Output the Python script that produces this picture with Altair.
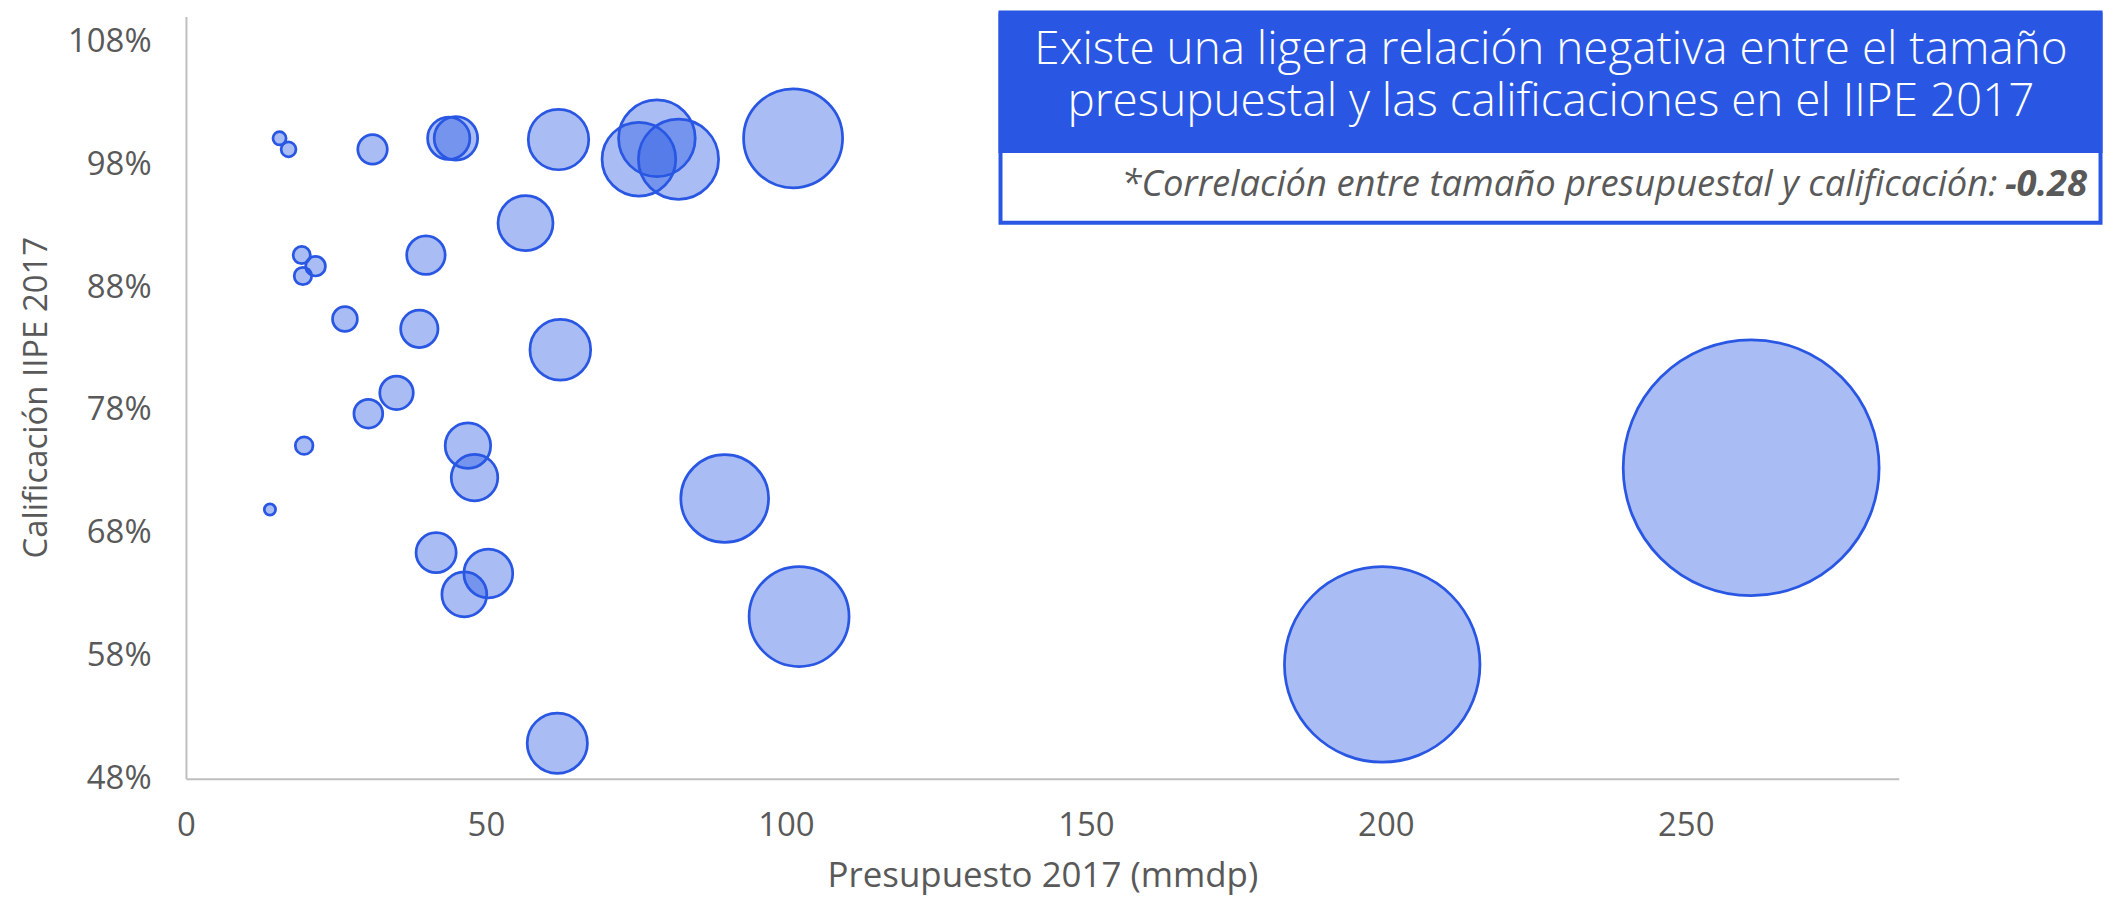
import altair as alt
import pandas as pd

# ---- data ----
presupuesto = [15.6, 17.1, 31.1, 43.8, 45.0, 62.1, 75.5, 78.5, 82.1, 101.2,
               56.6, 19.3, 21.6, 19.5, 40.0, 26.5, 38.9, 62.4, 35.1, 30.4,
               19.7, 47.0, 48.1, 14.0, 89.8, 41.7, 50.4, 46.4, 102.2, 61.9,
               199.4, 260.9]
calificacion = [1.001, 0.992, 0.992, 1.001, 1.001, 1.000, 0.984, 1.001, 0.984, 1.001,
                0.932, 0.906, 0.897, 0.889, 0.906, 0.854, 0.846, 0.829, 0.794, 0.777,
                0.751, 0.751, 0.725, 0.699, 0.708, 0.664, 0.647, 0.630, 0.612, 0.509,
                0.573, 0.733]
y_ticks = [0.48, 0.58, 0.68, 0.78, 0.88, 0.98, 1.08]
x_ticks = [0, 50, 100, 150, 200, 250]
titulo = ["Existe una ligera relación negativa entre el tamaño",
          "presupuestal y las calificaciones en el IIPE 2017"]
nota = ["*Correlación entre tamaño presupuestal y calificación:"]
nota_valor = ["-0.28"]
x_title = "Presupuesto 2017 (mmdp)"
y_title = "Calificación IIPE 2017"

BLUE = "#2957E3"
GRAY = "#595959"
AXIS = "#BFBFBF"
FONT = "Open Sans"
W, H = 1719, 765

df = pd.DataFrame({"presupuesto": presupuesto, "calificacion": calificacion})

bubbles = alt.Chart(df).mark_circle(
    fill=BLUE, fillOpacity=0.4, stroke=BLUE, strokeWidth=2.75, opacity=1
).encode(
    x=alt.X("presupuesto:Q",
            scale=alt.Scale(domain=[0, 285.5], nice=False, zero=True),
            axis=alt.Axis(values=x_ticks, title=x_title, grid=False, ticks=False, tickSize=0,
                          domainColor=AXIS, domainWidth=2, labelColor=GRAY, labelFontSize=33,
                          labelFont=FONT, labelPadding=57, labelBaseline="alphabetic",
                          titleFont=FONT, titleFontSize=35, titleColor=GRAY, titleFontWeight="normal",
                          titleBaseline="alphabetic", titleY=108, labelFlush=False)),
    y=alt.Y("calificacion:Q",
            scale=alt.Scale(domain=[0.48, 1.10], nice=False, zero=False),
            axis=alt.Axis(values=y_ticks, format=".0%", title=y_title, grid=False, ticks=False,
                          tickSize=0, domainColor=AXIS, domainWidth=2, labelColor=GRAY,
                          labelFontSize=33, labelFont=FONT, labelPadding=35,
                          titleFont=FONT, titleFontSize=33, titleColor=GRAY, titleFontWeight="normal",
                          titleBaseline="alphabetic", titleX=-140, titleY=382, titleAngle=270,
                          labelFlush=False)),
    size=alt.Size("presupuesto:Q",
                  scale=alt.Scale(type="pow", exponent=2, domain=[8, 300], range=[0, 87238], zero=False),
                  legend=None),
)

one = pd.DataFrame({"k": [0]})

outline = alt.Chart(one).mark_rect(fill="white", stroke=BLUE, strokeWidth=4).encode(
    x=alt.value(817.5), x2=alt.value(1921.5), y=alt.value(-4), y2=alt.value(207))
banner = alt.Chart(one).mark_rect(fill=BLUE).encode(
    x=alt.value(815.5), x2=alt.value(1923.5), y=alt.value(-4), y2=alt.value(137))

title_text = alt.Chart(pd.DataFrame({"t": ["\n".join(titulo)]})).mark_text(
    font=FONT, fontSize=46, fontWeight=300, color="white", align="center",
    baseline="alphabetic", lineBreak="\n", lineHeight=52
).encode(x=alt.value(1370), y=alt.value(48), text="t:N")
n1 = alt.Chart(pd.DataFrame({"t": nota})).mark_text(
    font=FONT, fontSize=36.5, fontStyle="italic", color=GRAY, align="right", baseline="alphabetic"
).encode(x=alt.value(1818), y=alt.value(180), text="t:N")
n2 = alt.Chart(pd.DataFrame({"t": nota_valor})).mark_text(
    font=FONT, fontSize=36.5, fontStyle="italic", fontWeight="bold", color=GRAY, align="right",
    baseline="alphabetic"
).encode(x=alt.value(1908), y=alt.value(180), text="t:N")

chart = alt.layer(bubbles, outline, banner, title_text, n1, n2).properties(
    width=W, height=H,
    autosize=alt.AutoSizeParams(type="none"),
    padding={"left": 178.6, "top": 7, "right": 208, "bottom": 118},
).configure(font=FONT).configure_view(strokeWidth=0, stroke=None)

chart.save("out.html", embed_options={"renderer": "svg", "actions": False})
